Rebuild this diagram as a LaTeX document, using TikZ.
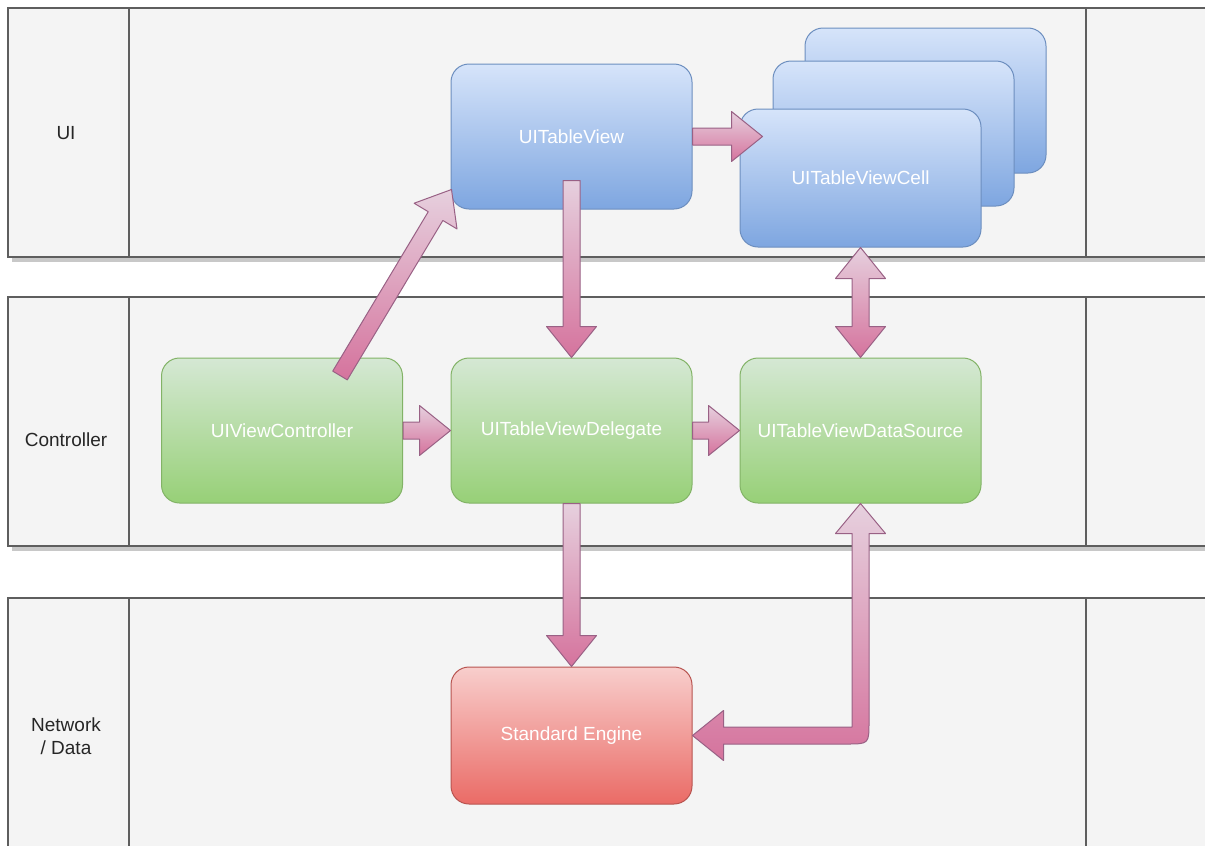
\documentclass[tikz,border=0pt]{standalone}
\usepackage{fontspec}
\setmainfont{Liberation Sans}
\usepackage{tikz}
\usetikzlibrary{calc}
\definecolor{lanefill}{HTML}{F4F4F4}
\definecolor{laneline}{HTML}{5E5E5E}
\definecolor{laneshade}{HTML}{C8C8C8}
\definecolor{bluetop}{HTML}{D6E4FA}
\definecolor{bluebot}{HTML}{7EA6E0}
\definecolor{blueline}{HTML}{6C8EBF}
\definecolor{greentop}{HTML}{D5E8D4}
\definecolor{greenbot}{HTML}{97D077}
\definecolor{greenline}{HTML}{82B366}
\definecolor{redtop}{HTML}{F8CECC}
\definecolor{redbot}{HTML}{EA6B66}
\definecolor{redline}{HTML}{B85450}
\definecolor{arrtop}{HTML}{E6D0DE}
\definecolor{arrbot}{HTML}{D5739D}
\definecolor{arrline}{HTML}{996185}

\begin{document}
\begin{tikzpicture}[x=1pt,y=-1pt,
    box/.style={rounded corners=18pt,minimum width=241pt,minimum height=145pt,inner sep=0pt,line width=1pt,text=white,font=\fontsize{19}{23}\selectfont},
    uibox/.style={box,draw=blueline,top color=bluetop,bottom color=bluebot},
    ctlbox/.style={box,draw=greenline,top color=greentop,bottom color=greenbot},
    databox/.style={box,draw=redline,top color=redtop,bottom color=redbot},
    flexarr/.style={draw=arrline,line width=1pt,line join=round,top color=arrtop,bottom color=arrbot},
    lanelbl/.style={align=center,text=black!85,font=\fontsize{19}{23}\selectfont}]
  \useasboundingbox (0,0) rectangle (1205,846);
  \clip (0,0) rectangle (1205,846);

  % lanes
  \foreach \ya/\yb/\ly/\lbl [count=\i] in {8/257/133/UI, 297/546/440/Controller, 598/874/736/{Network\\/ Data}}{
    \fill[laneshade] (12,\ya+5) rectangle (1230,\yb+5);
    \draw[laneline,line width=1.3pt,fill=lanefill] (8,\ya) rectangle (1230,\yb);
    \draw[laneline,line width=1.3pt] (129,\ya) -- (129,\yb);
    \draw[laneline,line width=2pt] (1086,\ya) -- (1086,\yb);
    \node[lanelbl] (lane\i) at (66,\ly) {\lbl};
  }

  % boxes
  \node[uibox] (tv) at (571.5,136.5) {UITableView};
  \node[uibox] (cl3) at (925.5,100.5) {};
  \node[uibox] (cl2) at (893.5,133.5) {};
  \node[uibox,minimum height=138pt] (cl1) at (860.5,178) {UITableViewCell};
  \node[ctlbox] (vc) at (282,430.5) {UIViewController};
  \node[ctlbox] (dl) at (571.5,430.5) {UITableViewDelegate};
  \node[ctlbox] (ds) at (860.5,430.5) {UITableViewDataSource};
  \node[databox,minimum height=137pt] (se) at (571.5,735.5) {Standard Engine};

  % arrows
  \coordinate (vctail) at ($(vc.north)+(58,18)$);
  \coordinate (tvtip) at ($(tv.south west)+(1,-20)$);
  \coordinate (tvtail) at ($(tv.south)+(0,-29)$);
  \coordinate (cltip) at ($(tv.east)+(70,0)$);
  \foreach \s/\t in {vctail/tvtip, tv.east/cltip, tvtail/dl.north, vc.east/dl.west, dl.east/ds.west, dl.south/se.north}{
    \coordinate (hb) at ($(\t)!31pt!(\s)$);
    \path[flexarr] ($(\s)!8.5pt!90:(\t)$) -- ($(hb)!8.5pt!-90:(\s)$) -- ($(hb)!25pt!-90:(\s)$) -- (\t)
      -- ($(hb)!25pt!90:(\s)$) -- ($(hb)!8.5pt!90:(\s)$) -- ($(\s)!8.5pt!-90:(\t)$) -- cycle;
  }
  \coordinate (ha) at ($(cl1.south)!31pt!(ds.north)$);
  \coordinate (hz) at ($(ds.north)!31pt!(cl1.south)$);
  \path[flexarr] (cl1.south) -- ($(ha)!25pt!90:(ds.north)$) -- ($(ha)!8.5pt!90:(ds.north)$)
    -- ($(hz)!8.5pt!-90:(cl1.south)$) -- ($(hz)!25pt!-90:(cl1.south)$) -- (ds.north)
    -- ($(hz)!25pt!90:(cl1.south)$) -- ($(hz)!8.5pt!90:(cl1.south)$)
    -- ($(ha)!8.5pt!-90:(ds.north)$) -- ($(ha)!25pt!-90:(ds.north)$) -- cycle;
  \coordinate (bend) at (ds.south |- se.east);
  \path[flexarr] (ds.south) -- ++(25,30) -- ++(-16.5,0) -- ($(bend)+(8.5,-14)$)
    .. controls ($(bend)+(8.5,8.5)$) .. ($(bend)+(-14,8.5)$) -- ($(se.east)+(31,8.5)$) -- ++(0,16.5)
    -- (se.east) -- ++(31,-25) -- ++(0,16.5) -- ($(bend)+(-8.5,-8.5)$) -- ($(ds.south)+(-8.5,30)$) -- ++(-16.5,0) -- cycle;
\end{tikzpicture}
\end{document}
